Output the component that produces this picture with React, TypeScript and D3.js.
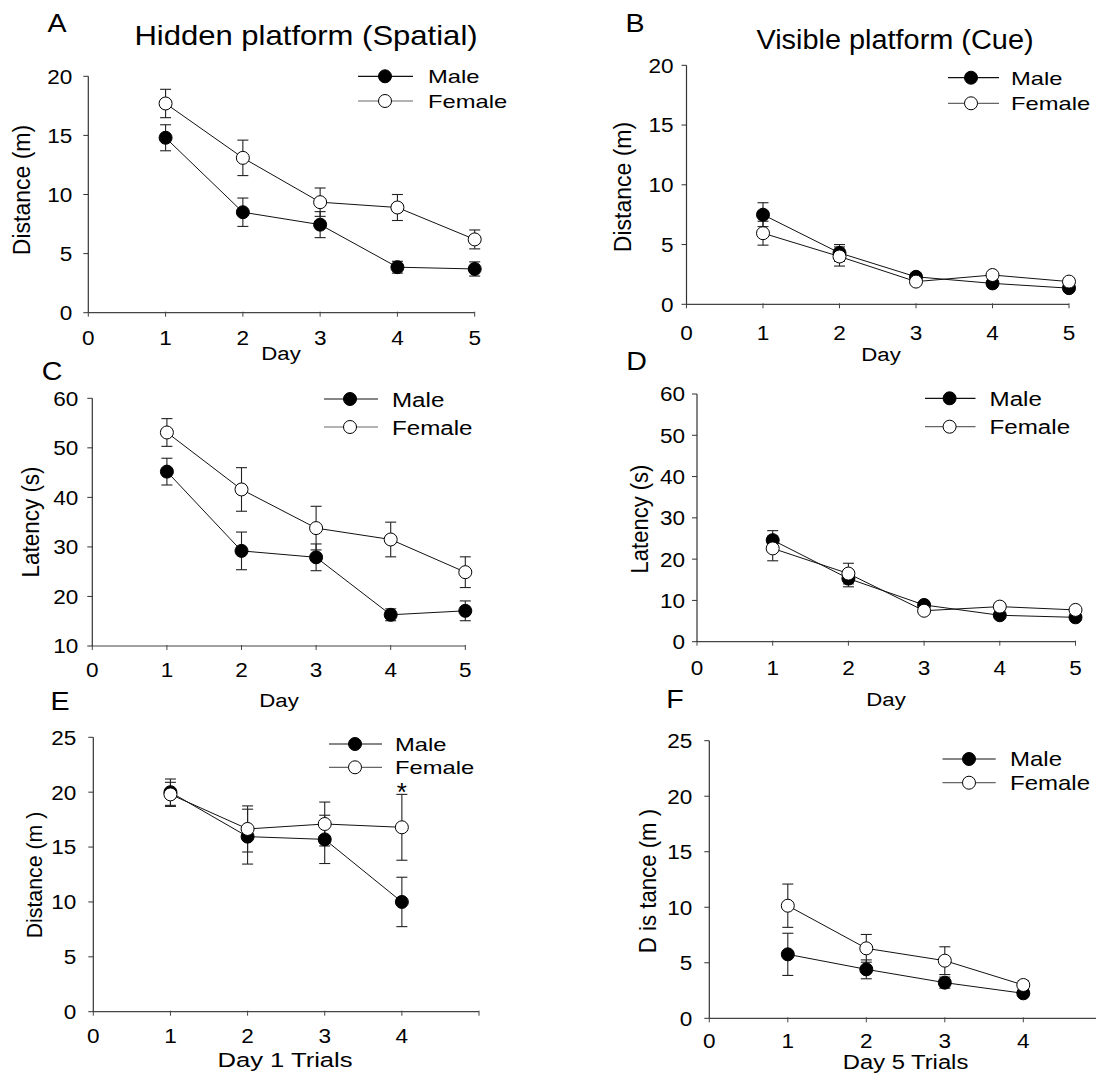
import React from 'react';
import * as d3 from 'd3';

const FONT = "'Liberation Sans', Arial, Helvetica, sans-serif";

// x categories
const days = [1, 2, 3, 4, 5];
const trials = [1, 2, 3, 4];
const dayTickLabels = ['0', '1', '2', '3', '4', '5'];
const trialTickLabels = ['0', '1', '2', '3', '4'];

// A - hidden platform distance (m)
const spatialDistMale = [14.8, 8.5, 7.45, 3.85, 3.7];
const spatialDistMaleErr = [1.1, 1.2, 1.1, 0.5, 0.6];
const spatialDistFemale = [17.7, 13.1, 9.35, 8.9, 6.2];
const spatialDistFemaleErr = [1.2, 1.5, 1.2, 1.1, 0.8];

// B - visible platform distance (m)
const cueDistMale = [7.5, 4.3, 2.3, 1.75, 1.35];
const cueDistMaleErr = [1.0, 0.7, 0.2, 0.2, 0.2];
const cueDistFemale = [5.95, 4.0, 1.9, 2.45, 1.9];
const cueDistFemaleErr = [1.0, 0.8, 0.2, 0.2, 0.2];

// C - hidden platform latency (s)
const spatialLatMale = [45.2, 29.2, 27.9, 16.3, 17.1];
const spatialLatMaleErr = [2.7, 3.8, 2.7, 1.2, 2.0];
const spatialLatFemale = [53.1, 41.6, 33.8, 31.5, 24.9];
const spatialLatFemaleErr = [2.8, 4.4, 4.4, 3.5, 3.1];

// D - visible platform latency (s)
const cueLatMale = [24.6, 15.3, 8.9, 6.4, 5.9];
const cueLatMaleErr = [2.3, 2.0, 0.6, 0.5, 0.5];
const cueLatFemale = [22.6, 16.5, 7.5, 8.5, 7.7];
const cueLatFemaleErr = [3.0, 2.5, 0.5, 0.5, 0.5];

// E - day 1 trials distance (m)
const day1Male = [20.0, 15.95, 15.7, 10.0];
const day1MaleErr = [1.2, 2.5, 2.2, 2.25];
const day1Female = [19.8, 16.65, 17.1, 16.8];
const day1FemaleErr = [1.1, 2.1, 2.0, 3.0];

// F - day 5 trials distance (m)
const day5Male = [5.76, 4.41, 3.21, 2.25];
const day5MaleErr = [1.9, 0.85, 0.5, 0.2];
const day5Female = [10.14, 6.3, 5.19, 3.0];
const day5FemaleErr = [1.95, 1.25, 1.25, 0.4];

// text helper, glyphs are a bit wider than tall in the original
const T = ({ x, y, size, sx = 1, anchor = 'middle', rot = 0, dy, children }: any) => (
  <text
    transform={`translate(${x},${y}) scale(${sx},1)${rot ? ` rotate(${rot})` : ''}`}
    fontSize={size}
    fontFamily={FONT}
    textAnchor={anchor}
    dy={dy}
    fill="#000"
  >
    {children}
  </text>
);

const panels = [
  {
    key: 'A', letter: [57, 32], title: 'Hidden platform (Spatial)', titlePos: [306, 45], titleSx: 1.15,
    xr: [88.3, 474.7], yd: [0, 20], yr: [312.7, 76.3], yStep: 5,
    xs: days, xLabels: dayTickLabels, xLabelBase: 345, yLabelGap: 16,
    male: spatialDistMale, maleErr: spatialDistMaleErr, female: spatialDistFemale, femaleErr: spatialDistFemaleErr,
    yTitle: 'Distance (m)', yTitlePos: [30, 190], yTitleSize: 23,
    xTitle: 'Day', xTitlePos: [281, 360], xTitleSize: 19, xTitleSx: 1.17,
    legend: { rows: [76.3, 101], line: [358, 413], cx: 385, tx: 428, size: 19, sx: 1.25 },
  },
  {
    key: 'B', letter: [635, 32], title: 'Visible platform (Cue)', titlePos: [895, 49], titleSx: 1.07,
    xr: [686.5, 1069], yd: [0, 20], yr: [304.3, 65.3], yStep: 5,
    xs: days, xLabels: dayTickLabels, xLabelBase: 340, yLabelGap: 13,
    male: cueDistMale, maleErr: cueDistMaleErr, female: cueDistFemale, femaleErr: cueDistFemaleErr,
    yTitle: 'Distance (m)', yTitlePos: [631, 187], yTitleSize: 23,
    xTitle: 'Day', xTitlePos: [881, 361], xTitleSize: 19, xTitleSx: 1.17,
    legend: { rows: [77.7, 103.3], line: [948, 999], cx: 971, tx: 1011, size: 19, sx: 1.25 },
  },
  {
    key: 'C', letter: [52, 380],
    xr: [92.3, 465.3], yd: [10, 60], yr: [646, 398.3], yStep: 10,
    xs: days, xLabels: dayTickLabels, xLabelBase: 677, yLabelGap: 14,
    male: spatialLatMale, maleErr: spatialLatMaleErr, female: spatialLatFemale, femaleErr: spatialLatFemaleErr,
    yTitle: 'Latency (s)', yTitlePos: [38.5, 522], yTitleSize: 22.5,
    xTitle: 'Day', xTitlePos: [279, 707], xTitleSize: 19, xTitleSx: 1.17,
    legend: { rows: [399, 427], line: [324, 378], cx: 350, tx: 392, size: 21, sx: 1.15 },
  },
  {
    key: 'D', letter: [636.5, 370],
    xr: [697, 1075.5], yd: [0, 60], yr: [641.7, 394], yStep: 10,
    xs: days, xLabels: dayTickLabels, xLabelBase: 675, yLabelGap: 12,
    male: cueLatMale, maleErr: cueLatMaleErr, female: cueLatFemale, femaleErr: cueLatFemaleErr,
    yTitle: 'Latency (s)', yTitlePos: [648, 519], yTitleSize: 22,
    xTitle: 'Day', xTitlePos: [886, 706], xTitleSize: 19, xTitleSx: 1.17,
    legend: { rows: [398.3, 426.7], line: [925, 975.5], cx: 949.6, tx: 989.6, size: 21, sx: 1.15 },
  },
  {
    key: 'E', letter: [60, 710],
    xr: [93.3, 479], yd: [0, 25], yr: [1011.7, 737.3], yStep: 5,
    xs: trials, xLabels: trialTickLabels, xLabelBase: 1043, yLabelGap: 17,
    male: day1Male, maleErr: day1MaleErr, female: day1Female, femaleErr: day1FemaleErr,
    yTitle: 'Distance (m )', yTitlePos: [42, 875], yTitleSize: 21.3,
    xTitle: 'Day 1 Trials', xTitlePos: [285, 1067], xTitleSize: 20.5, xTitleSx: 1.25,
    legend: { rows: [744, 767.3], line: [329, 382], cx: 355, tx: 395, size: 19, sx: 1.25 },
    star: { i: 3, text: '*' },
  },
  {
    key: 'F', letter: [675, 708],
    xr: [709.3, 1101.8], yd: [0, 25], yr: [1018.3, 740.7], yStep: 5,
    xs: trials, xLabels: trialTickLabels, xLabelBase: 1048, yLabelGap: 17,
    male: day5Male, maleErr: day5MaleErr, female: day5Female, femaleErr: day5FemaleErr,
    yTitle: 'D is tance (m )', yTitlePos: [656, 881], yTitleSize: 22.2,
    xTitle: 'Day 5 Trials', xTitlePos: [905.5, 1069], xTitleSize: 20, xTitleSx: 1.19,
    legend: { rows: [759, 782.7], line: [942.5, 995.7], cx: 969, tx: 1010, size: 20, sx: 1.2 },
  },
];

const R = 6.5;
const CAP = 5.5;

function Panel({ p }: any) {
  const x = d3.scaleLinear().domain([0, 5]).range(p.xr);
  const y = d3.scaleLinear().domain(p.yd).range(p.yr);
  const yTicks = d3.range(p.yd[0], p.yd[1] + 0.001, p.yStep);
  const xTicks = d3.range(0, 6);
  const line = (vals: number[]) =>
    d3.line<number>().x((_, i) => x(p.xs[i])).y((d) => y(d))(vals) || '';

  const series = [
    { vals: p.male, err: p.maleErr, fill: '#000' },
    { vals: p.female, err: p.femaleErr, fill: '#fff' },
  ];

  return (
    <g>
      <T x={p.letter[0]} y={p.letter[1]} size={26} sx={1.1}>{p.key}</T>
      {p.title && <T x={p.titlePos[0]} y={p.titlePos[1]} size={27} sx={p.titleSx}>{p.title}</T>}

      {/* axes */}
      <line x1={x(0)} x2={x(5)} y1={y.range()[0]} y2={y.range()[0]} stroke="#444" strokeWidth={1.2} />
      <line x1={x(0)} x2={x(0)} y1={y.range()[0]} y2={y.range()[1]} stroke="#333" strokeWidth={1.2} />
      {xTicks.map((t) => (
        <line key={'xt' + t} x1={x(t)} x2={x(t)} y1={y.range()[0] - 1} y2={y.range()[0] + 4} stroke="#444" />
      ))}
      {p.xLabels.map((lab: string, i: number) => (
        <T key={'xl' + i} x={x(i)} y={p.xLabelBase} size={20.5} sx={1.1}>{lab}</T>
      ))}
      {yTicks.map((t: number) => (
        <g key={'yt' + t}>
          <line x1={x(0) - 5} x2={x(0)} y1={y(t)} y2={y(t)} stroke="#333" />
          <T x={x(0) - p.yLabelGap} y={y(t)} size={20.5} sx={1.1} anchor="end" dy="0.36em">{t}</T>
        </g>
      ))}
      <T x={p.yTitlePos[0]} y={p.yTitlePos[1]} size={p.yTitleSize} sx={1.05} rot={-90}>{p.yTitle}</T>
      <T x={p.xTitlePos[0]} y={p.xTitlePos[1]} size={p.xTitleSize} sx={p.xTitleSx}>{p.xTitle}</T>

      {/* lines */}
      {series.map((s, k) => (
        <path key={'ln' + k} d={line(s.vals)} fill="none" stroke="#111" strokeWidth={1} />
      ))}
      {/* error bars */}
      {series.map((s, k) =>
        s.vals.map((v: number, i: number) => {
          const cx = x(p.xs[i]);
          const top = y(v + s.err[i]);
          const bot = y(v - s.err[i]);
          return (
            <g key={'eb' + k + i} stroke="#222" strokeWidth={1.1}>
              <line x1={cx} x2={cx} y1={top} y2={bot} />
              <line x1={cx - CAP} x2={cx + CAP} y1={top} y2={top} />
              <line x1={cx - CAP} x2={cx + CAP} y1={bot} y2={bot} />
            </g>
          );
        })
      )}
      {/* markers */}
      {series.map((s, k) =>
        s.vals.map((v: number, i: number) => (
          <circle key={'m' + k + i} cx={x(p.xs[i])} cy={y(v)} r={R} fill={s.fill} stroke="#000" strokeWidth={1} />
        ))
      )}
      {p.star && (
        <T x={x(p.xs[p.star.i])} y={y(p.female[p.star.i] + p.femaleErr[p.star.i]) + 7} size={26}>
          {p.star.text}
        </T>
      )}

      {/* legend */}
      {['Male', 'Female'].map((name, k) => (
        <g key={'lg' + k}>
          <line
            x1={p.legend.line[0]} x2={p.legend.line[1]}
            y1={p.legend.rows[k]} y2={p.legend.rows[k]}
            stroke={k === 0 ? '#111' : '#666'} strokeWidth={1.2}
          />
          <circle cx={p.legend.cx} cy={p.legend.rows[k]} r={R} fill={k === 0 ? '#000' : '#fff'} stroke="#000" />
          <T x={p.legend.tx} y={p.legend.rows[k]} size={p.legend.size} sx={p.legend.sx} anchor="start" dy="0.36em">
            {name}
          </T>
        </g>
      ))}
    </g>
  );
}

export default function App() {
  return (
    <svg
      width={1096}
      height={1074}
      style={{ position: 'absolute', left: 0, top: 0, background: '#fff' }}
    >
      <rect width={1096} height={1074} fill="#fff" />
      {panels.map((p) => (
        <Panel key={p.key} p={p} />
      ))}
    </svg>
  );
}
